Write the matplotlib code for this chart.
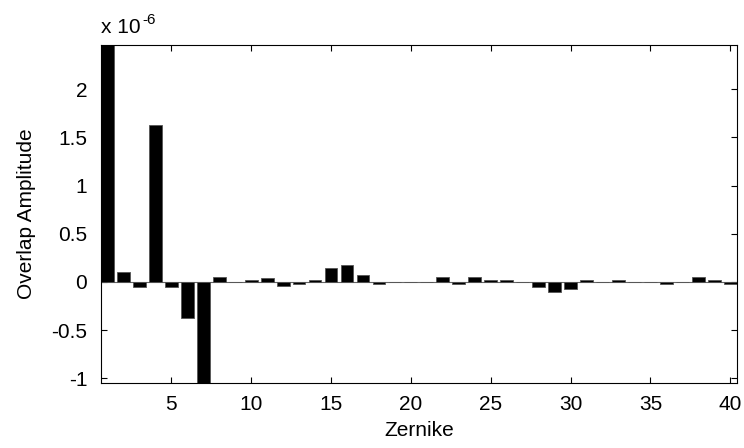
import matplotlib
matplotlib.use("Agg")
import matplotlib.pyplot as plt
import numpy as np

plt.rcParams['font.family'] = ['Liberation Sans', 'DejaVu Sans']

zernike = list(range(1, 41))
amplitude = [2.60, 0.107, -0.056, 1.625, -0.056, -0.38, -1.20, 0.055, -0.005, 0.024,
             0.037, -0.040, -0.020, 0.024, 0.140, 0.176, 0.076, -0.020, -0.005, -0.005,
             0.0, 0.052, -0.020, 0.052, 0.020, 0.020, -0.005, -0.052, -0.107, -0.076,
             0.020, 0.0, 0.020, 0.0, 0.0, -0.020, 0.0, 0.052, 0.020, -0.020]
yticks = [-1, -0.5, 0, 0.5, 1, 1.5, 2]
ytick_labels = ['-1', '-0.5', '0', '0.5', '1', '1.5', '2']
xticks = [5, 10, 15, 20, 25, 30, 35, 40]

fig = plt.figure(figsize=(7.44, 4.48), dpi=100)
ax = fig.add_axes([0.1358, 0.1451, 0.8544, 0.7545])
ax.bar(zernike, amplitude, width=0.8, color='black', edgecolor='#555555', linewidth=0.6, zorder=2)
ax.axhline(0, color='#666666', linewidth=0.8, zorder=1)
ax.set_xlim(0.6, 40.4)
ax.set_ylim(-1.05, 2.46)
ax.set_yticks(yticks)
ax.set_yticklabels(ytick_labels)
ax.set_xticks(xticks)
ax.tick_params(direction='in', top=True, right=True, labelsize=15, length=4, width=0.8)
ax.tick_params(axis='x', pad=9)
ax.tick_params(axis='y', pad=10)
for s in ax.spines.values():
    s.set_linewidth(0.8)
ax.set_xlabel('Zernike', fontsize=15, labelpad=5)
ax.set_ylabel('Overlap Amplitude', fontsize=15, labelpad=11)
t1 = fig.text(0.1358, 0.926, 'x 10', fontsize=15, ha='left', va='baseline')
fig.canvas.draw()
ax.annotate('-6', xy=(1, 1), xycoords=t1, xytext=(1, -1), textcoords='offset points',
            fontsize=11, ha='left', va='center', annotation_clip=False)
fig.savefig('out.png', dpi=100)
